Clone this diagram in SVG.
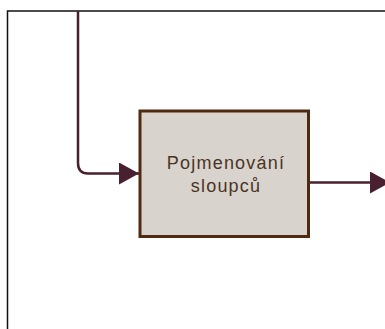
<svg xmlns="http://www.w3.org/2000/svg" width="385" height="329" viewBox="0 0 385 329">
<defs>
<style>
.frame{fill:none;stroke:#111;stroke-width:1.5}
.conn{fill:none;stroke:#48202f;stroke-width:2.5}
.node rect{fill:#d9d3ce;stroke:#4e2b10;stroke-width:3}
.node text{font-family:"Liberation Sans",Arial,sans-serif;font-size:18px;fill:#4a3424;text-anchor:middle;letter-spacing:1.2px}
</style>
<marker id="arr" markerWidth="20" markerHeight="22" refX="20" refY="11" orient="auto" markerUnits="userSpaceOnUse">
<path d="M0,0 L20,11 L0,22 Z" fill="#48202f"/>
</marker>
</defs>
<rect width="385" height="329" fill="#ffffff"/>
<path class="frame" d="M7.5,329 V11 H385"/>
<g id="connectors">
<path class="conn" d="M78,11 V163 Q78,173.5 88,173.5 H139" marker-end="url(#arr)"/>
<path class="conn" d="M310,182.5 H390" marker-end="url(#arr)"/>
</g>
<g id="node1" class="node">
<rect x="140" y="111" width="168.5" height="125.5"/>
<text x="226" y="168.5">Pojmenování</text>
<text x="226" y="192">sloupců</text>
</g>
</svg>
